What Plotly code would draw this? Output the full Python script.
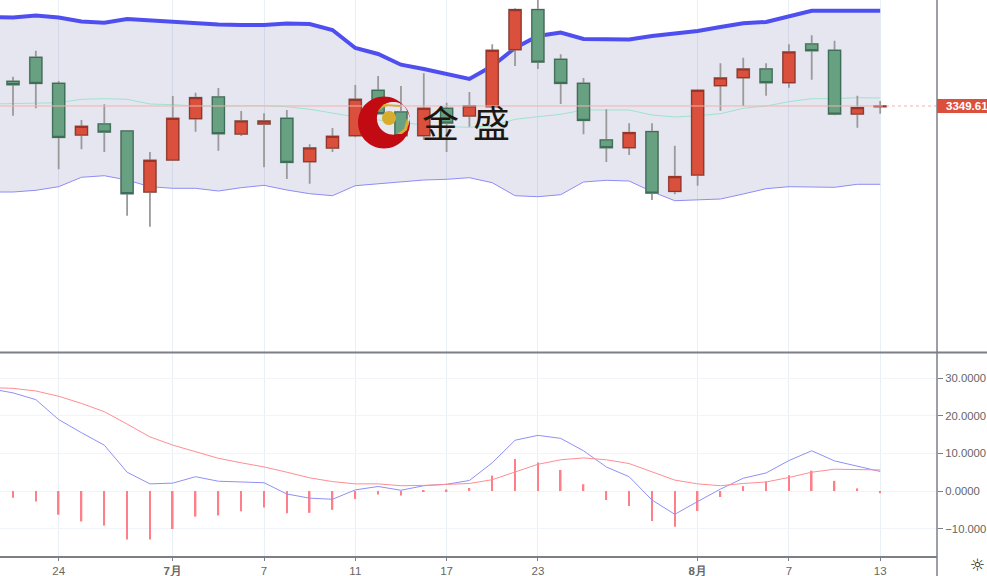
import numpy as np
import plotly.graph_objects as go

dates = ["06-19","06-20","06-23","06-24","06-25","06-26","06-27","06-30","07-01","07-02","07-03","07-04",
         "07-07","07-08","07-09","07-10","07-11","07-14","07-15","07-16","07-17","07-18","07-21","07-22",
         "07-23","07-24","07-25","07-28","07-29","07-30","07-31","08-01","08-04","08-05","08-06","08-07",
         "08-08","08-11","08-12","08-13"]
tick_dates = ["06-24","07-01","07-07","07-11","07-17","07-23","08-01","08-07","08-13"]
tick_labels = ["24","<b>7月</b>","7","11","17","23","<b>8月</b>","7","13"]

opens = [3374.3,3398.3,3372.3,3320.6,3331.6,3324.6,3263.6,3295.6,3336.9,3358.6,3321.6,3331.6,3337.3,3293.9,3307.6,3319.9,
         3365.3,3343.6,3319.9,3347.3,3339.6,3348.9,3405.9,3445.9,3396.3,3372.3,3315.6,3307.9,3323.9,3264.3,3280.6,3369.9,
         3377.9,3386.6,3372.9,3411.6,3405.3,3341.6,3349.0]
highs = [3378.9,3404.9,3374.6,3335.6,3351.3,3324.6,3303.6,3359.6,3362.9,3367.6,3344.6,3342.3,3345.6,3311.3,3327.6,3370.6,
         3379.6,3369.6,3382.3,3352.9,3363.6,3411.3,3447.3,3455.6,3401.3,3377.6,3346.3,3332.3,3332.3,3309.9,3366.3,3392.3,
         3397.9,3392.3,3411.3,3420.3,3414.9,3359.9,3354.6]
lows = [3339.9,3347.3,3286.3,3306.3,3303.6,3239.9,3228.9,3295.6,3323.9,3304.9,3319.6,3288.3,3276.6,3271.9,3303.6,3318.3,
        3341.6,3319.9,3315.6,3303.6,3328.9,3348.9,3389.6,3386.6,3351.6,3321.3,3293.6,3300.6,3255.6,3261.3,3269.9,3344.9,
        3349.6,3359.9,3367.9,3375.9,3340.3,3327.9,3341.9]
closes = [3370.9,3372.3,3318.3,3329.3,3323.6,3261.9,3295.3,3337.3,3357.9,3321.9,3334.6,3334.6,3293.3,3307.6,3319.3,3356.3,
          3341.9,3319.9,3347.3,3332.6,3349.6,3405.3,3445.9,3393.6,3372.3,3335.3,3307.9,3322.9,3262.6,3278.9,3365.3,3377.6,
          3386.6,3372.9,3403.6,3404.9,3341.6,3347.9,3349.61]

boll_upper = [3438.6,3438.1,3440.1,3438.1,3434.1,3432.9,3436.6,3435.1,3434.1,3432.6,3431.1,3430.6,3430.6,3432.1,3431.6,3425.6,
              3407.6,3401.6,3390.9,3386.6,3381.6,3376.6,3389.6,3407.6,3419.6,3423.1,3416.6,3416.1,3416.1,3419.6,3421.6,3424.6,
              3428.6,3432.3,3433.6,3439.6,3444.9,3444.9,3444.9,3444.9]
boll_mid = [3351.6,3351.9,3352.9,3352.9,3356.3,3356.9,3356.3,3351.6,3350.9,3349.6,3349.6,3349.9,3349.9,3348.9,3346.3,3342.6,
            3338.6,3335.6,3332.9,3330.6,3328.9,3328.3,3329.6,3336.3,3338.9,3341.3,3345.6,3345.9,3345.6,3340.6,3338.6,3339.9,
            3341.9,3347.3,3349.6,3353.9,3356.9,3356.9,3357.9,3357.6]
boll_lower = [3263.6,3263.6,3265.3,3268.9,3278.3,3279.9,3275.6,3268.9,3267.3,3267.3,3264.6,3267.9,3270.3,3265.6,3261.9,3259.9,
              3269.9,3271.6,3273.6,3275.6,3276.3,3277.9,3272.9,3259.9,3258.9,3260.9,3273.6,3275.3,3274.6,3263.9,3254.9,3255.6,
              3256.6,3261.6,3266.9,3268.9,3268.6,3268.3,3271.3,3271.3]

dif = [27.2,26.1,24.3,19.0,15.5,12.2,5.0,1.9,2.1,3.8,2.6,2.4,2.2,-0.8,-1.9,-2.2,0.3,1.2,0.2,1.4,1.8,2.8,7.5,13.5,14.8,14.0,
       10.7,6.4,3.8,-2.4,-6.2,-2.8,0.5,3.4,4.8,8.1,10.7,8.0,6.6,5.2]
dea = [27.5,27.3,26.6,25.2,23.3,21.1,17.8,14.4,12.2,10.4,8.7,7.5,6.4,5.0,3.5,2.5,1.9,1.9,1.4,1.5,1.7,2.0,3.0,5.1,7.1,8.3,
       8.8,8.3,7.3,5.1,2.9,1.9,1.4,2.0,2.4,3.6,5.0,5.8,5.8,5.6]
hist = [-1.8,-2.8,-6.3,-8.1,-9.2,-12.9,-12.9,-10.1,-6.8,-6.5,-5.4,-4.4,-5.9,-5.8,-5.0,-2.1,-0.9,-1.2,0.1,0.4,0.8,4.1,8.5,
        7.6,5.6,1.8,-2.4,-4.0,-8.0,-9.5,-5.3,-1.6,1.3,2.5,4.2,5.4,2.7,0.7,-0.6]
macd_ticks = [30, 20, 10, 0, -10]
macd_labels = ["30.0000","20.0000","10.0000","0.0000","−10.000"]

W, H = 987, 576
PR, PB = 937, 557
RED, REDL, GRN, GRNL, WICK = "#db503c", "#96362a", "#68a182", "#3c6f57", "#9a9a9a"
GRID = "#e8eff5"

def fx(p): return p / PR
def fy(p): return (PB - p) / PB

def circle(cx, cy, r, n=60):
    t = np.linspace(0, 2 * np.pi, n, endpoint=False)
    return [(cx + r * np.cos(a), cy + r * np.sin(a)) for a in t]

def path(pts):
    return "M" + " L".join(f"{fx(a):.5f},{fy(b):.5f}" for a, b in pts) + " Z"

body_top = [max(a, b) for a, b in zip(opens, closes)]
body_bot = [min(a, b) for a, b in zip(opens, closes)]
cx = dates[1:]
fig = go.Figure()
fig.add_trace(go.Scatter(x=dates, y=boll_lower, mode="lines", line=dict(color="#8d8df6", width=1)))
fig.add_trace(go.Scatter(x=dates, y=boll_upper, mode="lines", line=dict(color="#4f4ff0", width=4),
                         fill="tonexty", fillcolor="rgba(60,60,150,0.13)"))
fig.add_trace(go.Scatter(x=dates, y=boll_mid, mode="lines", line=dict(color="#9fe3cc", width=1)))
wick = dict(line=dict(color=WICK, width=1.8), fillcolor="rgba(0,0,0,0)")
fig.add_trace(go.Candlestick(x=cx, open=opens, high=highs, low=lows, close=closes, increasing=wick, decreasing=wick,
                             whiskerwidth=0, yaxis="y3"))
fig.add_trace(go.Candlestick(x=cx, open=opens, high=body_top, low=body_bot, close=closes,
                             increasing=dict(line=dict(color=REDL, width=1.2), fillcolor=RED),
                             decreasing=dict(line=dict(color=GRNL, width=1.2), fillcolor=GRN),
                             whiskerwidth=0, yaxis="y3"))
fig.add_trace(go.Bar(x=cx, y=hist, xaxis="x2", yaxis="y2", width=0.07, marker=dict(color="#ff7f88", line=dict(width=0))))
fig.add_trace(go.Scatter(x=dates, y=dif, xaxis="x2", yaxis="y2", mode="lines", line=dict(color="#9090f6", width=1)))
fig.add_trace(go.Scatter(x=dates, y=dea, xaxis="x2", yaxis="y2", mode="lines", line=dict(color="#ff8d94", width=1)))

last = closes[-1]
shapes = [
    dict(type="line", xref="paper", yref="y", x0=0, x1=fx(880), y0=last, y1=last, line=dict(color="#efb4ae", width=1)),
    dict(type="line", xref="paper", yref="y", x0=fx(880), x1=1, y0=last, y1=last, line=dict(color="#efb4ae", width=1, dash="dot")),
    dict(type="line", xref="paper", yref="paper", x0=0, x1=W / PR, y0=fy(352.5), y1=fy(352.5), line=dict(color="#7d7f88", width=2)),
    dict(type="line", xref="paper", yref="paper", x0=0, x1=1, y0=0, y1=0, line=dict(color="#7d7f88", width=2)),
    dict(type="line", xref="paper", yref="paper", x0=1, x1=1, y0=fy(H), y1=1, line=dict(color="#7d7f88", width=1.5)),
    dict(type="rect", xref="paper", yref="paper", x0=1, x1=W / PR, y0=fy(113), y1=fy(99), fillcolor=RED, line=dict(width=0)),
    # logo: crescent, gold ball, swooshes
    dict(type="path", xref="paper", yref="paper",
         path=path(circle(384, 122.5, 26)) + " " + path(circle(393.3, 118.3, 16.4)),
         fillcolor="#c20a12", line=dict(width=0), fillrule="evenodd"),
    dict(type="path", xref="paper", yref="paper", path=path(circle(389, 118, 7)), fillcolor="#d8ad2e", line=dict(width=0)),
    dict(type="path", xref="paper", yref="paper",
         path=path([(377, 112), (384, 104), (400, 105), (400, 107), (388, 106), (382, 108)]),
         fillcolor="#d6ae35", line=dict(width=0)),
    dict(type="path", xref="paper", yref="paper",
         path=path([(397, 134), (404, 129), (407, 118), (409, 122), (407, 130), (402, 134)]),
         fillcolor="#d6ae35", line=dict(width=0)),
]
annotations = [
    dict(xref="paper", yref="paper", x=fx(944), y=fy(106), xanchor="left", yanchor="middle", showarrow=False,
         text=f"<b>{last:.2f}</b>", font=dict(color="white", size=11.5, family="Liberation Sans")),
    dict(xref="paper", yref="paper", x=fx(440), y=fy(122), showarrow=False, xanchor="center", yanchor="middle",
         text="金", font=dict(size=37, color="#1c1712", family="Noto Sans CJK SC")),
    dict(xref="paper", yref="paper", x=fx(491), y=fy(122), showarrow=False, xanchor="center", yanchor="middle",
         text="盛", font=dict(size=37, color="#1c1712", family="Noto Sans CJK SC")),
    dict(xref="paper", yref="paper", x=fx(977), y=fy(564.5), showarrow=False, xanchor="center", yanchor="middle",
         text="☼", font=dict(size=17, color="#222222", family="DejaVu Sans")),
]
xrange = [0.43, 41.49]
axis_x = dict(type="category", categoryorder="array", categoryarray=dates, range=xrange, tickmode="array",
              tickvals=tick_dates, ticktext=tick_labels, showgrid=True, gridcolor=GRID, gridwidth=1, zeroline=False,
              rangeslider=dict(visible=False))
price_range = [3455.6 - 352, 3455.6]
fig.update_layout(
    width=W, height=H, margin=dict(l=0, r=W - PR, t=0, b=H - PB, autoexpand=False),
    paper_bgcolor="white", plot_bgcolor="white", showlegend=False, hovermode=False, boxgap=0.25, boxmode="overlay",
    barmode="overlay",
    font=dict(family="Liberation Sans", color="#666666", size=12),
    xaxis=dict(axis_x, anchor="y", showticklabels=False, ticks=""),
    xaxis2=dict(axis_x, anchor="y2", ticks="outside", ticklen=3, tickcolor="#7d7f88", showline=False,
                tickfont=dict(size=11.5, color="#666666")),
    yaxis=dict(domain=[fy(352), 1], range=price_range, showticklabels=False, showgrid=False, zeroline=False,
               ticks="", side="right", fixedrange=True),
    yaxis3=dict(overlaying="y", range=price_range, visible=False, side="right", fixedrange=True),
    yaxis2=dict(domain=[0, fy(353)], range=[-17.55, 36.7], side="right", tickmode="array", tickvals=macd_ticks,
                ticktext=macd_labels, showgrid=True, gridcolor="#f1f4f8", zeroline=False, ticks="outside", ticklen=5,
                tickcolor="#7d7f88", tickfont=dict(size=11.3, color="#666666"), automargin=False),
    shapes=shapes, annotations=annotations,
)
fig.write_html("out.html", config=dict(displayModeBar=False),
               post_script="document.body.style.margin='0';document.documentElement.style.overflow='hidden';")
